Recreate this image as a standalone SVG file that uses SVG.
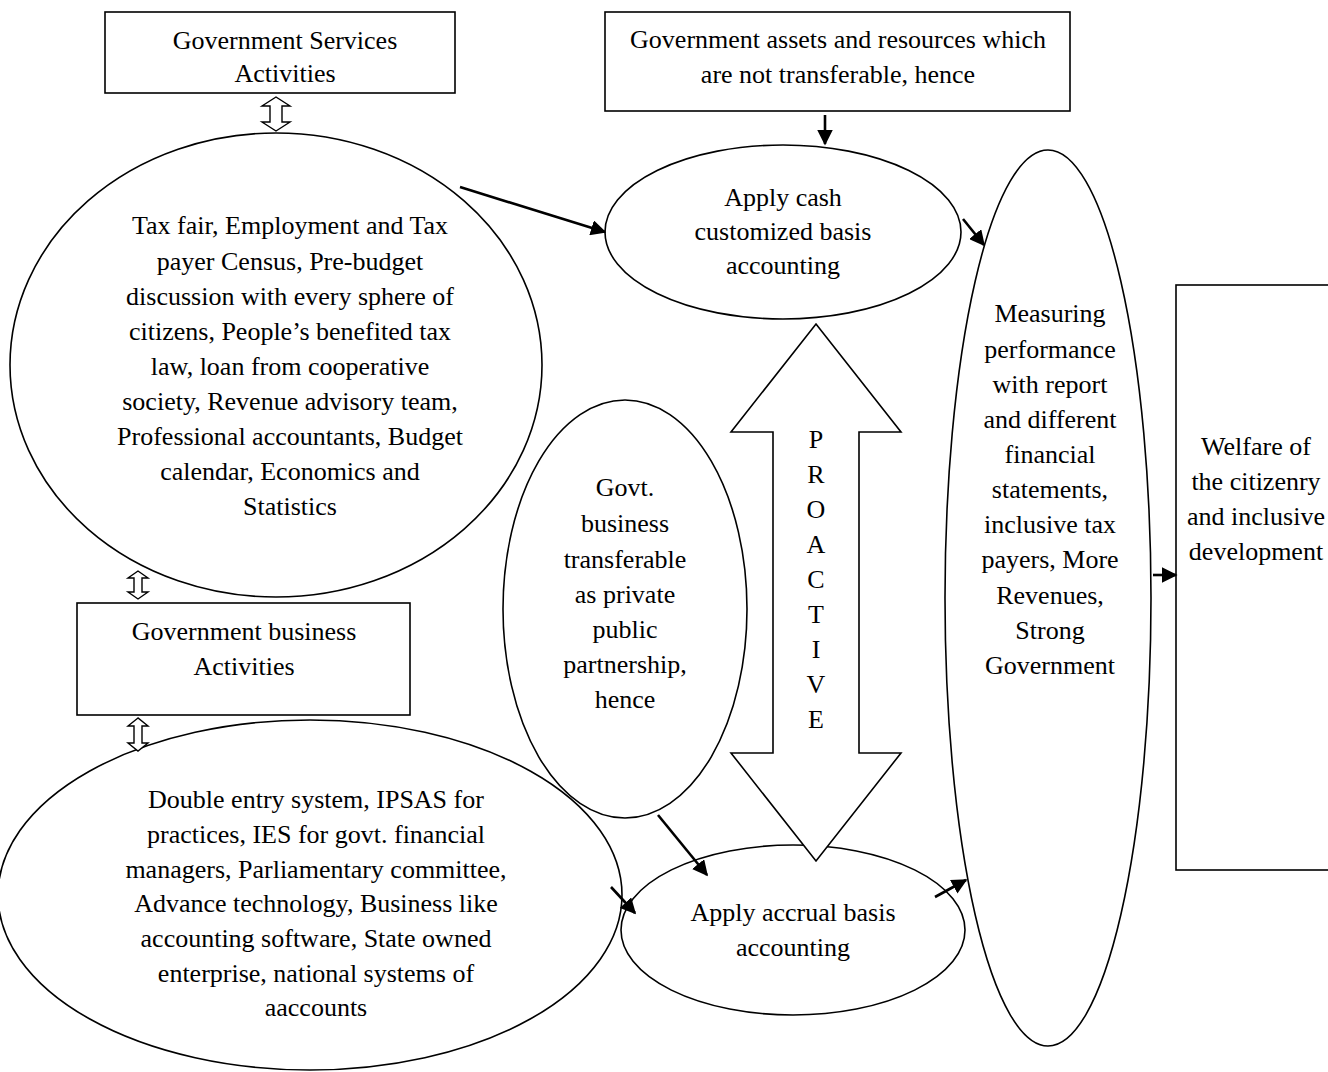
<svg xmlns="http://www.w3.org/2000/svg" width="1328" height="1072" viewBox="0 0 1328 1072">
<style>
.s{fill:#fff;stroke:#000;stroke-width:1.6}
.t{font-family:"Liberation Serif","Times New Roman",serif;font-size:26px;fill:#000;text-anchor:middle}
.c{stroke:#000;stroke-width:2.6;fill:none}
.h{fill:#fff;stroke:#000;stroke-width:1.4}
</style>
<defs>
<marker id="ah" viewBox="0 0 10 10" refX="9" refY="5" markerWidth="6" markerHeight="6" markerUnits="strokeWidth" orient="auto"><path d="M0,0 L10,5 L0,10 z" fill="#000"/></marker>
</defs>
<rect width="1328" height="1072" fill="#fff"/>
<g id="n-services">
<rect class="s" x="105" y="12" width="350" height="81"/>
<text class="t" x="285" y="49">Government Services</text>
<text class="t" x="285" y="82">Activities</text>
</g>
<g id="n-assets">
<rect class="s" x="605" y="12" width="465" height="99"/>
<text class="t" x="838" y="48">Government assets and resources which</text>
<text class="t" x="838" y="83">are not transferable, hence</text>
</g>
<g id="n-tax">
<ellipse class="s" cx="276" cy="365" rx="266" ry="232"/>
<text class="t" x="290" y="234">Tax fair, Employment and Tax</text>
<text class="t" x="290" y="270">payer Census, Pre-budget</text>
<text class="t" x="290" y="305">discussion with every sphere of</text>
<text class="t" x="290" y="340">citizens, People’s benefited tax</text>
<text class="t" x="290" y="375">law, loan from cooperative</text>
<text class="t" x="290" y="410">society, Revenue advisory team,</text>
<text class="t" x="290" y="445">Professional accountants, Budget</text>
<text class="t" x="290" y="480">calendar, Economics and</text>
<text class="t" x="290" y="515">Statistics</text>
</g>
<g id="n-business">
<rect class="s" x="77" y="603" width="333" height="112"/>
<text class="t" x="244" y="640">Government business</text>
<text class="t" x="244" y="675">Activities</text>
</g>
<g id="n-double">
<ellipse class="s" cx="310" cy="895" rx="312" ry="175"/>
<text class="t" x="316" y="808">Double entry system, IPSAS for</text>
<text class="t" x="316" y="843">practices, IES for govt. financial</text>
<text class="t" x="316" y="878">managers, Parliamentary committee,</text>
<text class="t" x="316" y="912">Advance technology, Business like</text>
<text class="t" x="316" y="947">accounting software, State owned</text>
<text class="t" x="316" y="982">enterprise, national systems of</text>
<text class="t" x="316" y="1016">aaccounts</text>
</g>
<g id="n-cash">
<ellipse class="s" cx="783" cy="232" rx="178" ry="87"/>
<text class="t" x="783" y="206">Apply cash</text>
<text class="t" x="783" y="240">customized basis</text>
<text class="t" x="783" y="274">accounting</text>
</g>
<g id="n-govt">
<ellipse class="s" cx="625" cy="609" rx="122" ry="209"/>
<text class="t" x="625" y="496">Govt.</text>
<text class="t" x="625" y="532">business</text>
<text class="t" x="625" y="568">transferable</text>
<text class="t" x="625" y="603">as private</text>
<text class="t" x="625" y="638">public</text>
<text class="t" x="625" y="673">partnership,</text>
<text class="t" x="625" y="708">hence</text>
</g>
<g id="n-accrual">
<ellipse class="s" cx="793" cy="930" rx="172" ry="85"/>
<text class="t" x="793" y="921">Apply accrual basis</text>
<text class="t" x="793" y="956">accounting</text>
</g>
<g id="n-measure">
<ellipse class="s" cx="1048" cy="598" rx="103" ry="448"/>
<text class="t" x="1050" y="322">Measuring</text>
<text class="t" x="1050" y="358">performance</text>
<text class="t" x="1050" y="393">with report</text>
<text class="t" x="1050" y="428">and different</text>
<text class="t" x="1050" y="463">financial</text>
<text class="t" x="1050" y="498">statements,</text>
<text class="t" x="1050" y="533">inclusive tax</text>
<text class="t" x="1050" y="568">payers, More</text>
<text class="t" x="1050" y="604">Revenues,</text>
<text class="t" x="1050" y="639">Strong</text>
<text class="t" x="1050" y="674">Government</text>
</g>
<g id="n-welfare">
<rect class="s" x="1176" y="285" width="170" height="585"/>
<text class="t" x="1256" y="455">Welfare of</text>
<text class="t" x="1256" y="490">the citizenry</text>
<text class="t" x="1256" y="525">and inclusive</text>
<text class="t" x="1256" y="560">development</text>
</g>
<g id="n-proactive">
<polygon class="s" points="816,324 901,432 859,432 859,753 901,753 816,861 731,753 773,753 773,432 731,432"/>
<text class="t" x="816" y="448">P</text>
<text class="t" x="816" y="483">R</text>
<text class="t" x="816" y="518">O</text>
<text class="t" x="816" y="553">A</text>
<text class="t" x="816" y="588">C</text>
<text class="t" x="816" y="623">T</text>
<text class="t" x="816" y="658">I</text>
<text class="t" x="816" y="693">V</text>
<text class="t" x="816" y="728">E</text>
</g>
<g id="connectors">
<polygon class="h" points="276,97 262,106 270,106 270,122 262,122 276,131 290,122 282,122 282,106 290,106"/>
<polygon class="h" points="138,571 128,578 134,578 134,592 128,592 138,599 148,592 142,592 142,578 148,578"/>
<polygon class="h" points="138,718 128,726 134,726 134,743 128,743 138,751 148,743 142,743 142,726 148,726"/>
<line class="c" x1="825" y1="115" x2="825" y2="144" marker-end="url(#ah)"/>
<line class="c" x1="460" y1="187" x2="605" y2="232" marker-end="url(#ah)"/>
<line class="c" x1="963" y1="219" x2="984" y2="245" marker-end="url(#ah)"/>
<line class="c" x1="658" y1="815" x2="707" y2="875" marker-end="url(#ah)"/>
<line class="c" x1="611" y1="887" x2="635" y2="913" marker-end="url(#ah)"/>
<line class="c" x1="935" y1="897" x2="966" y2="880" marker-end="url(#ah)"/>
<line class="c" x1="1153" y1="575" x2="1176" y2="575" marker-end="url(#ah)"/>
</g>
</svg>
